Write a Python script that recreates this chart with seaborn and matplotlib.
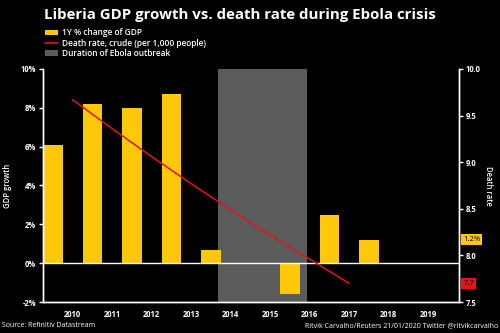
import matplotlib
matplotlib.use("Agg")
import matplotlib.pyplot as plt
import matplotlib.transforms as mtransforms
from matplotlib.patches import Patch
from matplotlib.lines import Line2D
import seaborn as sns
import pandas as pd

# ---- data ----
gdp_years = [2010, 2011, 2012, 2013, 2014, 2015, 2016, 2017, 2018]
gdp_growth = [6.1, 8.2, 8.0, 8.7, 0.7, 0.0, -1.6, 2.5, 1.2]
death_years = [2010.5, 2011.5, 2012.5, 2013.5, 2014.5, 2015.5, 2016.5, 2017.5]
death_rate = [9.67, 9.36, 9.06, 8.77, 8.49, 8.22, 7.96, 7.70]
ebola_start, ebola_end = 2014.18, 2016.43
year_labels = [str(y) for y in range(2010, 2020)]
left_ticks = [-2, 0, 2, 4, 6, 8, 10]
right_ticks = [7.5, 8.0, 8.5, 9.0, 9.5, 10.0]

YELLOW = "#FFC80A"
RED = "#E3121B"
GREY = "#5B5B5B"
FONT = ["Open Sans", "DejaVu Sans"]

sns.set_style("dark")
plt.rcParams["font.family"] = FONT
plt.rcParams["axes.facecolor"] = "black"
plt.rcParams["figure.facecolor"] = "black"

fig = plt.figure(figsize=(5, 3.33), dpi=100)
ax = fig.add_axes([0.086, 0.093, 0.832, 0.700])
ax.set_facecolor("black")

gdp_df = pd.DataFrame({"year": gdp_years, "gdp": gdp_growth})
death_df = pd.DataFrame({"year": death_years, "rate": death_rate})

ax.axvspan(ebola_start, ebola_end, color=GREY, lw=0, zorder=0)
sns.barplot(data=gdp_df, x="year", y="gdp", native_scale=True, width=0.5,
            color=YELLOW, saturation=1, ax=ax, zorder=2, linewidth=0,
            edgecolor="none")
ax.axhline(0, color="white", lw=1, zorder=3)

ax.set_xlim(2009.75, 2020.28)
ax.set_ylim(-2, 10)
ax.set_xticks(range(2010, 2021))
ax.set_xticklabels([])
ax.set_xticks([y + 0.5 for y in range(2010, 2020)], minor=True)
ax.set_xticklabels(year_labels, minor=True)
ax.tick_params(axis="x", which="minor", length=0, pad=6, colors="white",
               labelsize=5.5)
ax.tick_params(axis="x", which="major", length=3, width=1, color="white",
               direction="out")
for t in ax.get_xticklabels(minor=True):
    t.set_fontweight("bold")
ax.set_yticks(left_ticks)
ax.set_yticklabels([f"{v}%" for v in left_ticks])
ax.tick_params(axis="y", length=3, width=1, color="white", labelcolor="white",
               labelsize=5.5, direction="out", pad=2)
for t in ax.get_yticklabels():
    t.set_fontweight("bold")
ax.set_xlabel("")
ax.set_ylabel("GDP growth", color="white", fontsize=5.5, labelpad=6,
              fontweight="semibold")
ax.grid(False)

ax2 = ax.twinx()
sns.lineplot(data=death_df, x="year", y="rate", color=RED, lw=1.1, ax=ax2,
             zorder=4)
ax2.set_ylim(7.5, 10.0)
ax2.set_yticks(right_ticks)
ax2.set_yticklabels([f"{v:.1f}" for v in right_ticks])
ax2.tick_params(axis="y", length=3, width=1, color="white", labelcolor="white",
                labelsize=5.5, direction="out", pad=2)
for t in ax2.get_yticklabels():
    t.set_fontweight("bold")
ax2.set_ylabel("Death rate", color="white", fontsize=5.5, rotation=-90,
               labelpad=9, fontweight="semibold")
ax2.set_xlabel("")
ax2.grid(False)

for a in (ax, ax2):
    for side in ("left", "right", "bottom"):
        a.spines[side].set_color("white")
        a.spines[side].set_linewidth(1)
        a.spines[side].set_visible(True)
    a.spines["top"].set_visible(False)

# value boxes on right axis
tr1 = mtransforms.blended_transform_factory(ax.transAxes, ax.transData)
ax.text(1.01, gdp_growth[-1], f"{gdp_growth[-1]:.1f}%", transform=tr1,
        fontsize=5.5, color="black", va="center", ha="left",
        bbox=dict(boxstyle="square,pad=0.25", fc=YELLOW, ec="none"),
        zorder=6, clip_on=False)
tr2 = mtransforms.blended_transform_factory(ax2.transAxes, ax2.transData)
ax2.text(1.01, death_rate[-1], f"{death_rate[-1]:.1f}", transform=tr2,
         fontsize=5.5, color="black", va="center", ha="left",
         bbox=dict(boxstyle="square,pad=0.25", fc=RED, ec="none"),
         zorder=6, clip_on=False)

fig.text(0.088, 0.955, "Liberia GDP growth vs. death rate during Ebola crisis",
         color="white", fontsize=10.8, fontweight="bold", va="center",
         ha="left")

handles = [Patch(facecolor=YELLOW, edgecolor="none"),
           Line2D([0], [0], color=RED, lw=1.2),
           Patch(facecolor=GREY, edgecolor="none")]
labels = ["1Y % change of GDP", "Death rate, crude (per 1,000 people)",
          "Duration of Ebola outbreak"]
leg = fig.legend(handles, labels, loc="upper left",
                 bbox_to_anchor=(0.09, 0.915), frameon=False, fontsize=6,
                 handlelength=1.5, handleheight=0.6, labelspacing=0.15,
                 handletextpad=0.5, borderaxespad=0, borderpad=0)
for t in leg.get_texts():
    t.set_color("white")
    t.set_fontweight("semibold")

fig.text(0.004, 0.022, "Source: Refinitiv Datastream", color="white",
         fontsize=5, ha="left", va="center")
fig.text(0.996, 0.022, "Ritvik Carvalho/Reuters 21/01/2020 Twitter @ritvikcarvalho",
         color="white", fontsize=5, ha="right", va="center")

fig.savefig("out.png", dpi=100, facecolor="black")
